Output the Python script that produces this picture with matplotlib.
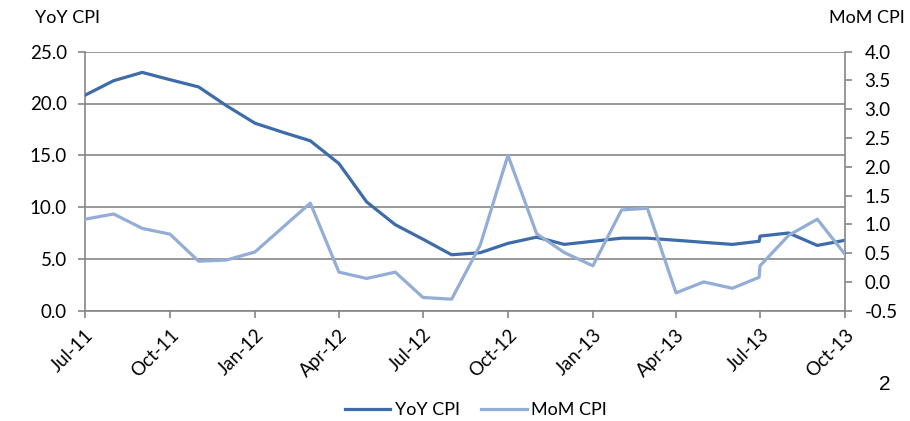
import matplotlib
matplotlib.use("Agg")
import matplotlib.pyplot as plt
import matplotlib.dates as mdates
import numpy as np
import pandas as pd

# monthly CPI readings; July 2013 appears twice (rebased series)
dates = pd.to_datetime([
    "2011-07-01", "2011-08-01", "2011-09-01", "2011-10-01", "2011-11-01", "2011-12-01",
    "2012-01-01", "2012-02-01", "2012-03-01", "2012-04-01", "2012-05-01", "2012-06-01",
    "2012-07-01", "2012-08-01", "2012-09-01", "2012-10-01", "2012-11-01", "2012-12-01",
    "2013-01-01", "2013-02-01", "2013-03-01", "2013-04-01", "2013-05-01", "2013-06-01",
    "2013-06-30", "2013-07-01", "2013-08-01", "2013-09-01", "2013-10-01",
])
yoy_cpi = [20.8, 22.2, 23.0, 22.3, 21.6, 19.8,
           18.1, 17.2, 16.4, 14.2, 10.5, 8.3,
           6.9, 5.4, 5.6, 6.5, 7.1, 6.4,
           6.7, 7.0, 7.0, 6.8, 6.6, 6.4,
           6.7, 7.2, 7.5, 6.3, 6.8]
mom_cpi = [1.09, 1.18, 0.93, 0.83, 0.36, 0.38,
           0.52, 0.96, 1.37, 0.17, 0.06, 0.17,
           -0.27, -0.30, 0.64, 2.20, 0.84, 0.51,
           0.28, 1.25, 1.28, -0.19, 0.00, -0.11,
           0.08, 0.28, 0.81, 1.09, 0.48]

yoy_ticks = np.arange(0, 25.1, 5)
mom_ticks = np.arange(-0.5, 4.01, 0.5)

dark_blue = "#3d6ca8"
light_blue = "#93add6"
grey = "#868686"
font = ["Lato", "DejaVu Sans"]

plt.rcParams["font.family"] = font

fig = plt.figure(figsize=(9.1, 4.21), dpi=100)
ax = fig.add_axes([85 / 910, 1 - 310.7 / 421, 760 / 910, 259 / 421])
ax2 = ax.twinx()

ln1, = ax.plot(dates, yoy_cpi, color=dark_blue, lw=2.3, label="YoY CPI", zorder=3)
ln2, = ax2.plot(dates, mom_cpi, color=light_blue, lw=2.3, label="MoM CPI", zorder=3)

ax.set_xlim(pd.Timestamp("2011-07-01"), pd.Timestamp("2013-10-01"))
ax.set_ylim(0, 25)
ax.set_yticks(yoy_ticks)
ax.set_yticklabels([f"{v:.1f}" for v in yoy_ticks])
ax2.set_ylim(-0.5, 4.0)
ax2.set_yticks(mom_ticks)
ax2.set_yticklabels([f"{v:.1f}" for v in mom_ticks])

ax.xaxis.set_major_locator(mdates.MonthLocator(bymonth=[1, 4, 7, 10]))
ax.xaxis.set_major_formatter(mdates.DateFormatter("%b-%y"))
plt.setp(ax.get_xticklabels(), rotation=45, ha="right", rotation_mode="anchor")

ax.grid(axis="y", color=grey, lw=1.2)
ax.set_axisbelow(True)

for a in (ax, ax2):
    a.spines["top"].set_visible(False)
    a.tick_params(length=5, width=1.2, color=grey, labelsize=13.5)
    for s in a.spines.values():
        s.set_color(grey)
        s.set_linewidth(1.2)
ax2.spines["left"].set_visible(False)
ax2.spines["bottom"].set_visible(False)
ax.spines["right"].set_visible(False)
ax.tick_params(axis="y", pad=8)
ax2.tick_params(axis="y", pad=9)
ax.tick_params(axis="x", pad=6)

fig.text(35 / 910, 1 - 18 / 421, "YoY CPI", fontsize=13, va="center", ha="left")
fig.text(905 / 910, 1 - 18 / 421, "MoM CPI", fontsize=13, va="center", ha="right")
fig.text(885 / 910, 1 - 385 / 421, "2", fontsize=15, va="center", ha="center",
         family="Liberation Sans")

fig.legend(handles=[ln1, ln2], loc="center", bbox_to_anchor=(0.523, 1 - 410 / 421),
           ncol=2, frameon=False, fontsize=13, handlelength=2.5, columnspacing=1.2,
           handletextpad=0.25)

fig.savefig("out.png", dpi=100)
